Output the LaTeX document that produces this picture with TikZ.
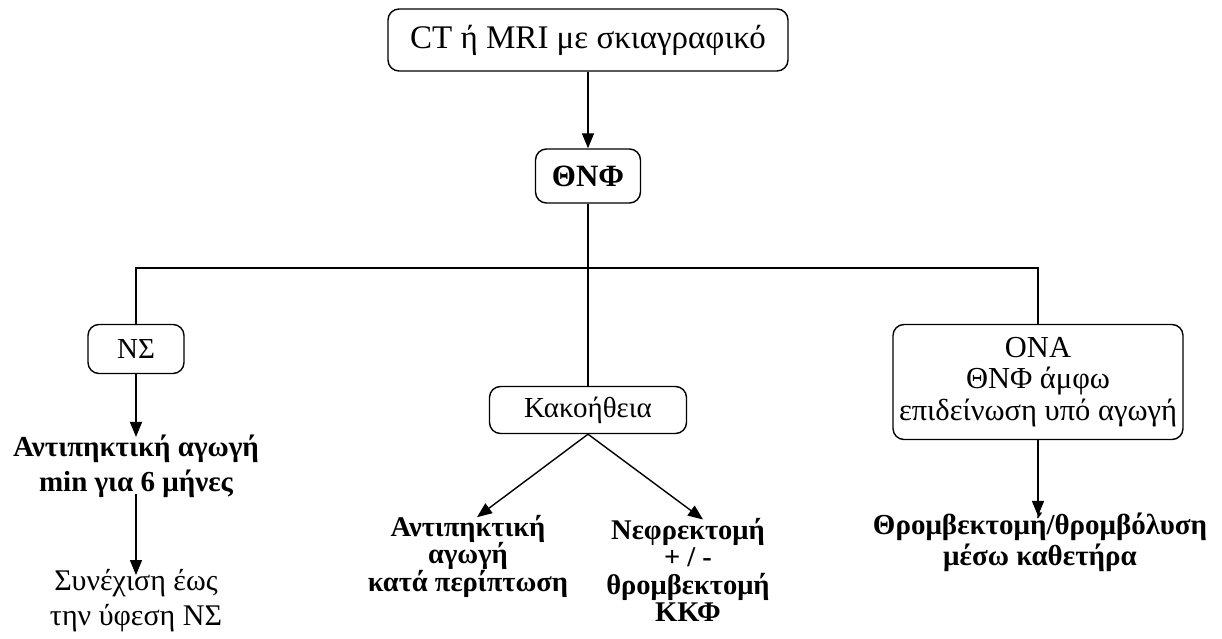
\documentclass[tikz,border=0pt]{standalone}
\usepackage{fontspec}
\setmainfont{Liberation Serif}
\usetikzlibrary{arrows.meta}
\begin{document}
\begin{tikzpicture}[x=1pt,y=-1pt,
  line width=1.4pt,
  box/.style={draw,rounded corners=11pt,inner sep=0pt,align=center},
  plain/.style={inner sep=0pt,align=center},
  arr/.style={-{Triangle[length=15pt,width=12pt]}},
  big/.style={font=\fontsize{33}{40}\selectfont},
  mid/.style={font=\fontsize{29}{34}\selectfont},
]
\useasboundingbox (0,0) rectangle (1222,639);

% boxes
\node[box,big,minimum width=400pt,minimum height=62pt] (top) at (588,40) {CT ή MRI με σκιαγραφικό};
\node[box,font=\fontsize{31}{36}\selectfont\bfseries,minimum width=105pt,minimum height=54pt] (onf) at (588,176) {ΘΝΦ};
\node[box,mid,minimum width=96pt,minimum height=49pt] (ns) at (136,349) {ΝΣ};
\node[box,mid,minimum width=197pt,minimum height=47pt] (kak) at (588,410) {Κακοήθεια};
\node[box,font=\fontsize{30.5}{31.5}\selectfont,minimum width=290pt,minimum height=115pt] (ona) at (1038,382) {ΟΝΑ\\ΘΝΦ άμφω\\επιδείνωση υπό αγωγή};

% outcome texts
\node[plain,font=\fontsize{29}{35}\selectfont\bfseries] (t1) at (136,466) {Αντιπηκτική αγωγή\\min για 6 μήνες};
\node[plain,font=\fontsize{30}{35}\selectfont] (t2) at (136,601) {Συνέχιση έως\\την ύφεση ΝΣ};
\node[plain,font=\fontsize{28.5}{27.5}\selectfont\bfseries] (t3) at (468,556) {Αντιπηκτική\\αγωγή\\κατά περίπτωση};
\node[plain,font=\fontsize{28.5}{27.5}\selectfont\bfseries] (t4) at (688,570) {Νεφρεκτομή\\+ / -\\θρομβεκτομή\\ΚΚΦ};
\node[plain,font=\fontsize{29}{31}\selectfont\bfseries] (t5) at (1040,542) {Θρομβεκτομή/θρομβόλυση\\μέσω καθετήρα};

% connectors
\coordinate (bus) at (588,268);
\draw[arr] (top) -- (onf);
\draw (onf.south) -- (kak.north);
\draw (ns.north) |- (bus) -| (ona.north);
\draw[arr] (ns.south) -- ([yshift=-3pt]t1.north);
\draw[arr] ([yshift=4pt]t1.south) -- ([yshift=-6pt]t2.north);
\draw[arr] (kak.south) -- ([xshift=9pt,yshift=-3pt]t3.north);
\draw[arr] (kak.south) -- ([xshift=15pt,yshift=-2pt]t4.north);
\draw[arr] (ona.south) -- ([yshift=-4pt]ona.south |- t5.north);
\end{tikzpicture}
\end{document}
